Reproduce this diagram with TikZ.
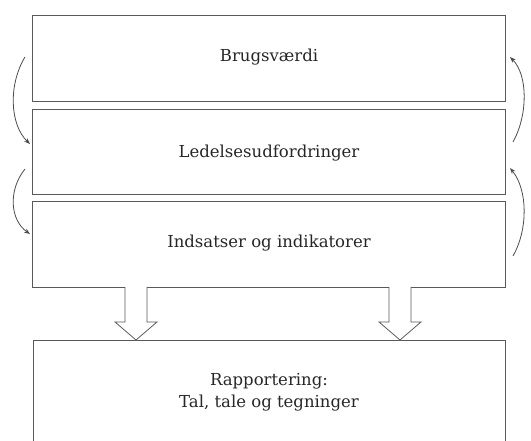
\documentclass[tikz,border=0pt]{standalone}
\usepackage{fontspec}
\setmainfont{DejaVu Serif}
\usetikzlibrary{arrows.meta}
\begin{document}
\begin{tikzpicture}[x=1pt,y=-1pt,
  boxline/.style={draw=black!65,line width=0.8pt},
  lbl/.style={font=\fontsize{16.5}{22}\selectfont,text=black!85,align=center},
  curv/.style={draw=black!70,line width=0.8pt,-{Stealth[length=6pt,width=4.5pt]}},
  hollow/.style={draw=black!65,line width=0.8pt,fill=white}]
\useasboundingbox (0,0) rectangle (531,441);
\begin{scope}
\clip (0,0) rectangle (531,441);
\draw[boxline] (32,15) rectangle (505,101);
\draw[boxline] (32,109) rectangle (505,194);
\draw[boxline] (32,201) rectangle (505,287);
\draw[boxline] (33,450) -- (33,340) -- (505,340) -- (505,450);
\end{scope}
\node[lbl] (b1) at (269,57) {Brugsværdi};
\node[lbl] (b2) at (269,153) {Ledelsesudfordringer};
\node[lbl] (b3) at (269,243) {Indsatser og indikatorer};
\node[lbl] (b4) at (269,392) {Rapportering:\\Tal, tale og tegninger};
\coordinate (l1s) at (25,57); \coordinate (l1e) at (30,144);
\coordinate (l2s) at (25,169); \coordinate (l2e) at (30,234);
\coordinate (r1s) at (513,142); \coordinate (r1e) at (510,57);
\coordinate (r2s) at (513,256); \coordinate (r2e) at (510,168);
\draw[curv] (l1s) .. controls (8,85) and (10,125) .. (l1e);
\draw[curv] (l2s) .. controls (8,190) and (10,220) .. (l2e);
\draw[curv] (r1s) .. controls (528,115) and (528,75) .. (r1e);
\draw[curv] (r2s) .. controls (528,230) and (528,190) .. (r2e);
\foreach \cx in {136,400}{
  \draw[hollow] (\cx-11,287) -- (\cx-11,322) -- (\cx-21,322) -- (\cx,340) -- (\cx+21,322) -- (\cx+11,322) -- (\cx+11,287);
}
\end{tikzpicture}
\end{document}
